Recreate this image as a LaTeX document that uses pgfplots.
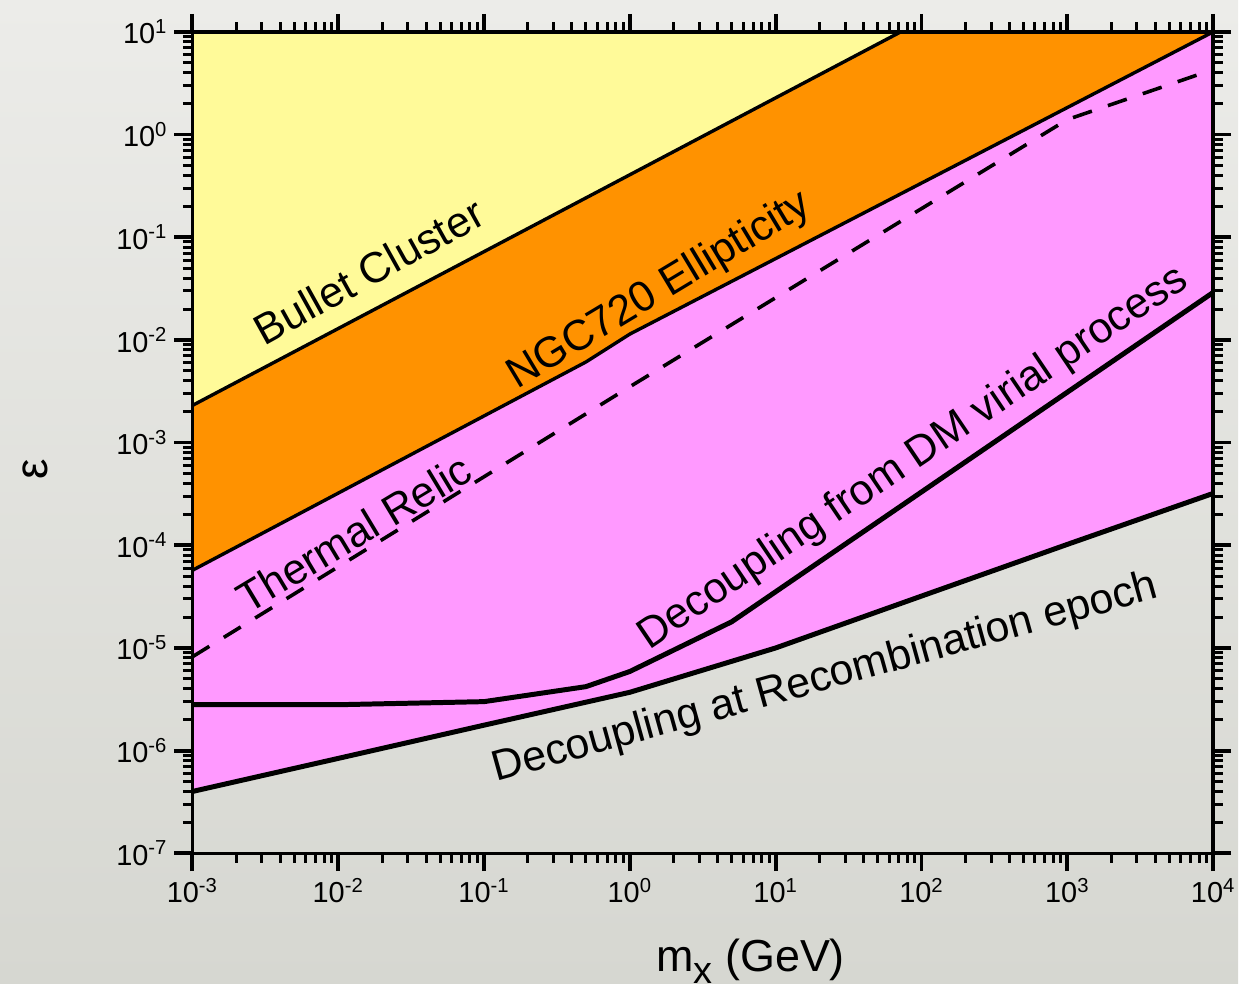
\documentclass[border=0pt]{standalone}
\usepackage{pgfplots}
\pgfplotsset{compat=1.18}
\usepackage{fontspec}
\setmainfont{Liberation Sans}
\definecolor{bcyellow}{RGB}{255,250,153}
\definecolor{ngcorange}{RGB}{255,146,0}
\definecolor{relicpink}{RGB}{255,153,255}
\definecolor{bgtop}{RGB}{236,236,233}
\definecolor{bgbot}{RGB}{214,215,209}
\newcommand{\lab}{\fontsize{21.5}{24}\selectfont}
\begin{document}
\begin{tikzpicture}[x=1pt,y=1pt]
\shade[top color=bgtop,bottom color=bgbot] (-96.5,-65.5) rectangle (524.5,428);
\begin{axis}[
  at={(0,0)}, anchor=south west,
  width=512pt, height=412pt, scale only axis,
  xmode=log, ymode=log,
  xmin=1e-3, xmax=1e4, ymin=1e-7, ymax=10,
  axis on top,
  tick align=outside,
  major tick length=9pt, minor tick length=4.8pt,
  major tick style={line width=1.9pt, black},
  minor tick style={line width=1.5pt, black},
  axis line style={line width=1.7pt},
  xtick={1e-3,1e-2,1e-1,1,10,100,1000,10000},
  xticklabels={10\textsuperscript{-3},10\textsuperscript{-2},10\textsuperscript{-1},10\textsuperscript{0},10\textsuperscript{1},10\textsuperscript{2},10\textsuperscript{3},10\textsuperscript{4}},
  ytick={1e-7,1e-6,1e-5,1e-4,1e-3,1e-2,1e-1,1,10},
  yticklabels={10\textsuperscript{-7},10\textsuperscript{-6},10\textsuperscript{-5},10\textsuperscript{-4},10\textsuperscript{-3},10\textsuperscript{-2},10\textsuperscript{-1},10\textsuperscript{0},10\textsuperscript{1}},
  ticklabel style={font=\fontsize{14.5}{16}\selectfont},
  clip=true,
]
% fills
\addplot[fill=bcyellow, draw=none] coordinates {(1e-3,2.3e-3) (72,10) (1e-3,10)} -- cycle;
\addplot[fill=ngcorange, draw=none] coordinates {(1e-3,5.7e-5) (0.5,6.1e-3) (1,1.14e-2) (500,1.1) (1e4,10) (72,10) (1e-3,2.3e-3)} -- cycle;
\addplot[fill=relicpink, draw=none] coordinates {(1e-3,4.0e-7) (0.01,8.4e-7) (0.1,1.77e-6) (1,3.7e-6) (10,1.0e-5) (100,3.2e-5) (1000,1.02e-4) (1e4,3.2e-4) (1e4,10) (500,1.1) (1,1.14e-2) (0.5,6.1e-3) (1e-3,5.7e-5)} -- cycle;
% boundary lines
\addplot[black, line width=1.7pt] coordinates {(1e-3,2.3e-3) (72,10)};
\addplot[black, line width=1.7pt] coordinates {(1e-3,5.7e-5) (0.5,6.1e-3) (1,1.14e-2) (500,1.1) (1e4,10)};
\addplot[black, line width=1.8pt, dash pattern=on 10pt off 8.5pt] coordinates {(1e-3,8.2e-6) (1,3.5e-3) (1000,1.4) (1e4,4.3)};
\addplot[black, line width=2.5pt] coordinates {(1e-3,2.8e-6) (1e-2,2.8e-6) (0.1,3.0e-6) (0.5,4.2e-6) (1,5.9e-6) (5,1.8e-5) (1e4,2.9e-2)};
\addplot[black, line width=2.5pt] coordinates {(1e-3,4.0e-7) (0.01,8.4e-7) (0.1,1.77e-6) (1,3.7e-6) (10,1.0e-5) (100,3.2e-5) (1000,1.02e-4) (1e4,3.2e-4)};
% labels
\node[rotate=29, font=\lab] at (axis cs:0.0162,0.0468) {Bullet Cluster};
\node[rotate=31, font=\lab] at (axis cs:1.6,0.030) {NGC720 Ellipticity};
\node[rotate=31, font=\lab] at (axis cs:0.0128,1.31e-4) {Thermal Relic};
\node[rotate=34, font=\lab] at (axis cs:88,7.0e-4) {Decoupling from DM virial process};
\node[rotate=15.5, font=\lab] at (axis cs:21.9,5.0e-6) {Decoupling at Recombination epoch};
\end{axis}
\node[font=\fontsize{22.5}{24}\selectfont, anchor=base] at (0.545*512+1, -0.124*412-8) {m\raisebox{-6pt}{\fontsize{19}{19}\selectfont x} (GeV)};
\node[font=\fontsize{23}{24}\selectfont, rotate=90] at (-0.154*512, 0.468*412) {ε};
\end{tikzpicture}
\end{document}
